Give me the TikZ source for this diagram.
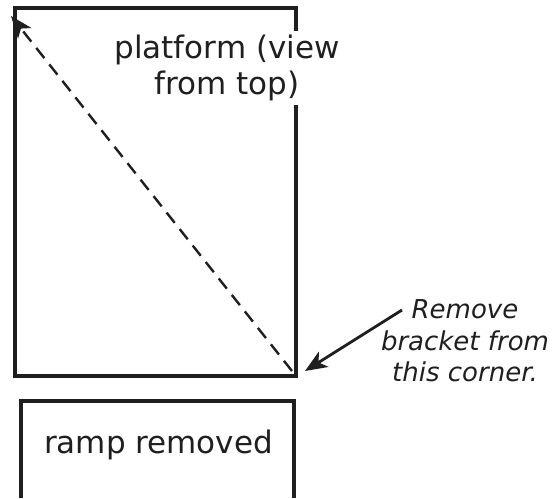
\documentclass[tikz,border=0pt]{standalone}
\usepackage{fontspec}
\setmainfont{DejaVu Sans}
\usetikzlibrary{arrows.meta, positioning}

\tikzset{
  outline/.style={line width=3.2pt, black!88},
  bigtext/.style={font=\fontsize{31}{36}\selectfont, text=black!88},
  notetext/.style={font=\fontsize{26}{31.5}\selectfont\itshape, text=black!88, align=center}
}

\begin{document}
\begin{tikzpicture}[x=1pt, y=-1pt]
\useasboundingbox (0,0) rectangle (559,498);

\coordinate (PTL) at (15,8);    % platform top left
\coordinate (PBR) at (296,376); % platform bottom right
\coordinate (diagend) at (292,371);
\coordinate (diagtip) at (11,16);
\coordinate (notetail) at (402,310);
\coordinate (notetip) at (305,371);

% platform, seen from the top
\draw[outline] (PTL) rectangle (PBR);
\node[bigtext, align=center, fill=white, inner sep=4pt] (platname) at (227,67.5)
  {platform (view\\from top)};

% ramp, cut off at the bottom
\draw[outline] (21,498) -- (21,401) -- (294,401) -- (294,498);
\node[bigtext, anchor=base] (rampname) at (158.5,453) {ramp removed};

% diagonal across the platform
\draw[line width=2.4pt, black!88, dash pattern=on 13pt off 8pt,
      -{Stealth[length=22pt, width=17pt, inset=6pt]}] (diagend) -- (diagtip);

% note with its arrow
\node[notetext] (note) at (465,341) {Remove\\bracket from\\this corner.};
\draw[line width=2.8pt, black!88, -{Stealth[length=22pt, width=18pt, inset=6pt]}] (notetail) -- (notetip);
\end{tikzpicture}
\end{document}
